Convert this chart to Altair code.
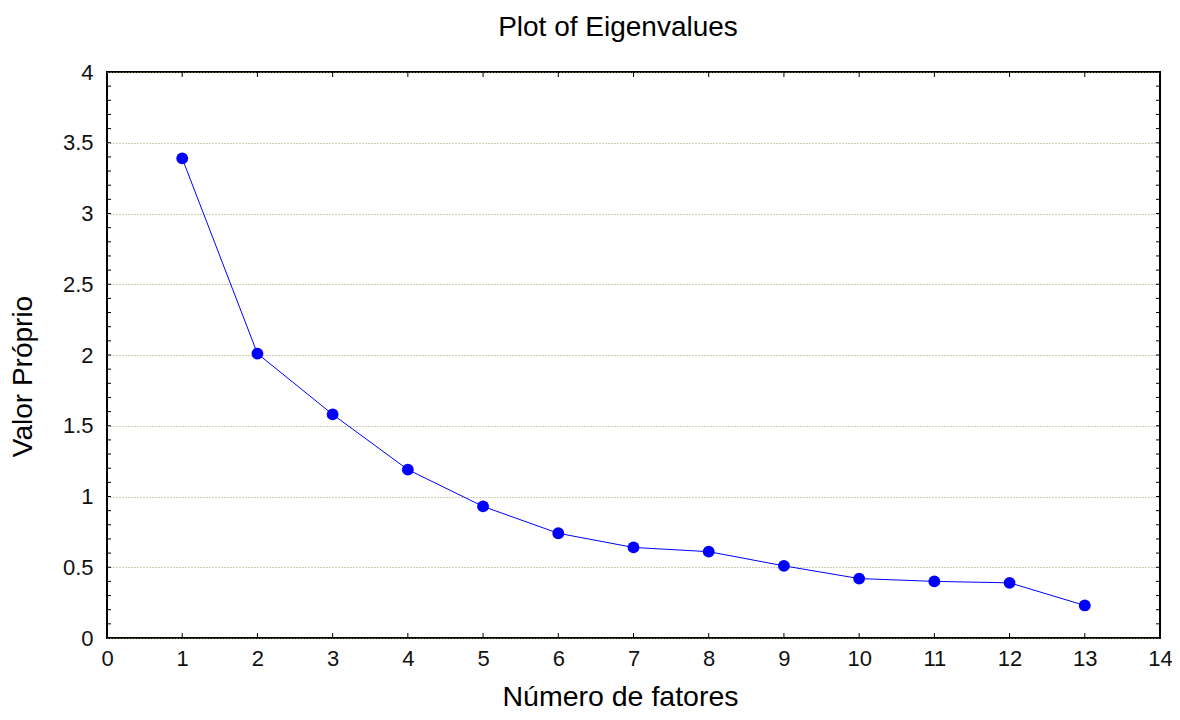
import altair as alt
import pandas as pd

factors = [1, 2, 3, 4, 5, 6, 7, 8, 9, 10, 11, 12, 13]
eigenvalues = [3.39, 2.01, 1.58, 1.19, 0.93, 0.74, 0.64, 0.61, 0.51, 0.42, 0.40, 0.39, 0.23]
x_ticks = list(range(0, 15))
y_ticks = [0, 0.5, 1, 1.5, 2, 2.5, 3, 3.5, 4]
y_minor = [round(i * 0.1, 1) for i in range(1, 40)]
x_major = list(range(1, 14))
chart_title = ["Plot of Eigenvalues"]

W, H = 1053, 566
FONT = "Liberation Sans"

df = pd.DataFrame({"f": factors, "v": eigenvalues})
dminor = pd.DataFrame({"v": y_minor})
dmajor = pd.DataFrame({"f": x_major})
dtitle = pd.DataFrame({"t": chart_title})

xscale = alt.Scale(domain=[0, 14], nice=False, zero=False)
yscale = alt.Scale(domain=[0, 4], nice=False, zero=False)

xaxis = alt.Axis(
    values=x_ticks, format="d", tickSize=0, domain=False, grid=False,
    labelFont=FONT, labelFontSize=22, labelColor="#111111", labelPadding=10,
    title="Número de fatores", titleFont=FONT, titleFontSize=28.5,
    titleFontWeight="normal", titleColor="#000000",
    titleX=513, titleY=67, titleBaseline="alphabetic", titleAlign="center",
    labelFlush=False,
)
yaxis = alt.Axis(
    values=y_ticks, format="~g", tickSize=0, domain=False,
    grid=True, gridColor="#9c9c70", gridDash=[1, 2], gridWidth=1,
    labelFont=FONT, labelFontSize=22, labelColor="#111111", labelPadding=14,
    title="Valor Próprio", titleFont=FONT, titleFontSize=28,
    titleFontWeight="normal", titleColor="#000000",
    titleX=-76, titleY=304, titleBaseline="alphabetic", titleAlign="center",
    titleAngle=270, labelFlush=False,
)

line = alt.Chart(df).mark_line(color="#0000ff", strokeWidth=1).encode(
    x=alt.X("f:Q", scale=xscale, axis=xaxis),
    y=alt.Y("v:Q", scale=yscale, axis=yaxis),
)
pts = alt.Chart(df).mark_circle(color="#0000ff", opacity=1, size=140).encode(
    x=alt.X("f:Q", scale=xscale),
    y=alt.Y("v:Q", scale=yscale),
)

left_ticks = alt.Chart(dminor).mark_rule(color="#000000", strokeWidth=1).encode(
    y=alt.Y("v:Q", scale=yscale), x=alt.value(0), x2=alt.value(4)
)
right_ticks = alt.Chart(dminor).mark_rule(color="#000000", strokeWidth=1).encode(
    y=alt.Y("v:Q", scale=yscale), x=alt.value(W - 4), x2=alt.value(W)
)
bottom_ticks = alt.Chart(dmajor).mark_rule(color="#000000", strokeWidth=1).encode(
    x=alt.X("f:Q", scale=xscale), y=alt.value(H - 5), y2=alt.value(H)
)
top_ticks = alt.Chart(dmajor).mark_rule(color="#000000", strokeWidth=1).encode(
    x=alt.X("f:Q", scale=xscale), y=alt.value(0), y2=alt.value(5)
)
title = alt.Chart(dtitle).mark_text(
    font=FONT, fontSize=28, color="#000000", align="center", baseline="alphabetic"
).encode(text="t:N", x=alt.value(511), y=alt.value(-36))

chart = alt.layer(
    left_ticks, right_ticks, bottom_ticks, top_ticks, line, pts, title
).properties(
    width=W, height=H,
    autosize=alt.AutoSizeParams(type="none"),
    padding={"left": 99, "top": 64, "right": 12, "bottom": 74},
    background="#ffffff",
).configure_view(
    stroke="#000000", strokeWidth=2
)

chart.save("out.html", embed_options={"renderer": "svg", "actions": False})
